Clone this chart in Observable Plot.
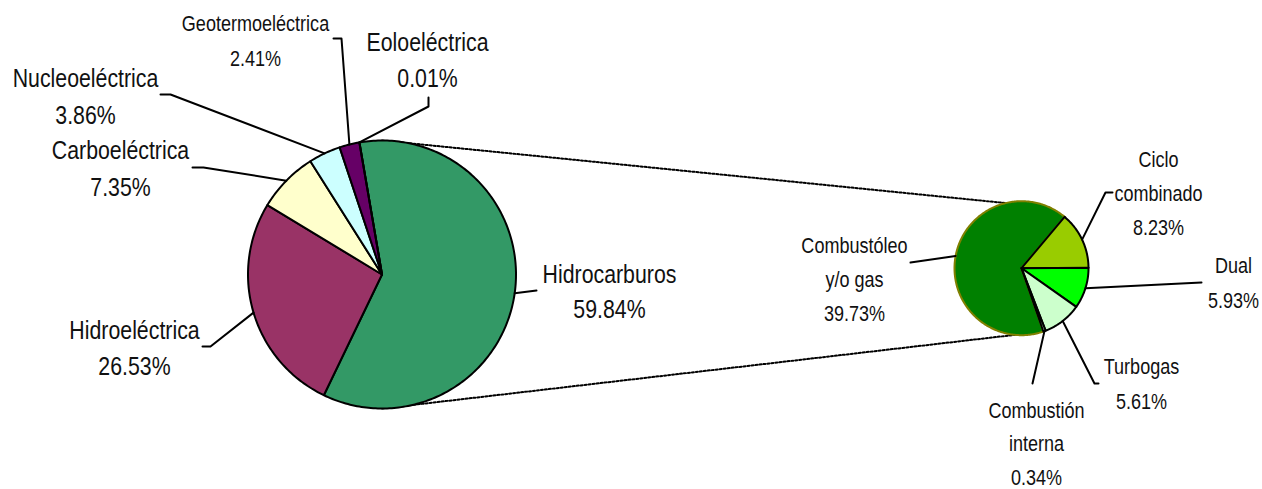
<!DOCTYPE html>
<html><head><meta charset="utf-8">
<script src="https://cdn.jsdelivr.net/npm/d3@7"></script>
<script src="https://cdn.jsdelivr.net/npm/@observablehq/plot@0.6"></script>
<style>html,body{margin:0;padding:0;background:#fff;overflow:hidden} svg{display:block}</style>
</head><body><div id="chart"></div>
<script>
// ---- Data ----
const mainCategories = ["Hidrocarburos", "Hidroeléctrica", "Carboeléctrica", "Nucleoeléctrica", "Geotermoeléctrica", "Eoloeléctrica"];
const mainValues = [59.84, 26.53, 7.35, 3.86, 2.41, 0.01];
const mainColors = ["#339966", "#993366", "#FFFFCC", "#CCFFFF", "#660066", "#FFFFFF"];

const subCategories = ["Ciclo\ncombinado", "Dual", "Turbogas", "Combustión\ninterna", "Combustóleo\ny/o gas"];
const subValues = [8.23, 5.93, 5.61, 0.34, 39.73];
const subColors = ["#99CC00", "#00FF00", "#CCFFCC", "#CCFFCC", "#008000"];
const subStrokes = ["#000", "#000", "#000", "#000", "#808000"];

// ---- Layout ----
const W = 1262, H = 489;
const FONT = "'Liberation Sans', Arial, sans-serif";
const NARROW = 0.82; // horizontal squeeze to mimic a narrow face
const MAIN = {cx: 381.5, cy: 274, r: 134, start: -9.7};
const SUB = {cx: 1021, cy: 267.7, r: 67, start: 40};
const mainLayout = [
  {x: 609, y: 282, size: 26, lh: 35.5, path: [[536, 290]]},
  {x: 134, y: 338, size: 26, lh: 36, path: [[202, 346], [210, 346]]},
  {x: 120, y: 158, size: 26, lh: 37, path: [[192, 167], [203, 167]]},
  {x: 85, y: 86, size: 26, lh: 37, path: [[160, 94], [170, 94]]},
  {x: 255, y: 30, size: 22, lh: 35, path: [[333, 38], [341, 38]]},
  {x: 427, y: 50, size: 26, lh: 36, path: [[428, 97], [428, 106]]}
];
const subLayout = [
  {x: 1158, y: 166, size: 22, lh: 34, path: [[1112, 192], [1105, 192]]},
  {x: 1233, y: 272, size: 22, lh: 35, path: [[1201, 282]]},
  {x: 1141, y: 373, size: 22, lh: 35, path: [[1098, 383], [1094, 383]]},
  {x: 1036, y: 417, size: 22, lh: 33.7, path: [[1032, 383]]},
  {x: 854, y: 252, size: 22, lh: 34, path: [[910, 262]]}
];

// ---- Geometry helpers ----
function slices(cfg, cats, vals, colors, strokes) {
  const total = d3.sum(vals);
  let a = cfg.start;
  return cats.map((c, i) => {
    const span = vals[i] / total * 360;
    const s = {name: c, value: vals[i], color: colors[i], stroke: strokes ? strokes[i] : "#000", a0: a, a1: a + span};
    a += span;
    return s;
  });
}
function pt(cfg, ang, r = cfg.r) {
  const t = ang * Math.PI / 180;
  return [cfg.cx + r * Math.sin(t), cfg.cy - r * Math.cos(t)];
}
function poly(cfg, s) {
  const pts = [[cfg.cx, cfg.cy]];
  const n = Math.max(2, Math.ceil(Math.abs(s.a1 - s.a0)));
  for (let k = 0; k <= n; k++) pts.push(pt(cfg, s.a0 + (s.a1 - s.a0) * k / n));
  return pts.map(([x, y]) => ({x, y}));
}

const mainSlices = slices(MAIN, mainCategories, mainValues, mainColors);
const subSlices = slices(SUB, subCategories, subValues, subColors, subStrokes);

const marks = [];
// connector dotted lines
const lastSub = subSlices[subSlices.length - 1];
const topA = pt(MAIN, 0), topB = pt(SUB, 25);
const botA = pt(MAIN, 180), botB = pt(SUB, lastSub.a0);
for (const [a, b] of [[topA, topB], [botA, botB]]) {
  marks.push(Plot.line([{x: a[0], y: a[1]}, {x: b[0], y: b[1]}], {x: "x", y: "y", stroke: "#000", strokeWidth: 2, strokeDasharray: "2 2"}));
}
// main pie slices
for (const s of mainSlices) {
  marks.push(Plot.line(poly(MAIN, s), {x: "x", y: "y", fill: s.color, stroke: "#000", strokeWidth: 2, curve: "linear-closed", strokeLinejoin: "round"}));
}
// secondary pie: big slice first (olive outline), then others
const subOrder = [subSlices.length - 1, ...subSlices.map((_, i) => i).slice(0, -1)];
for (const i of subOrder) {
  const s = subSlices[i];
  marks.push(Plot.line(poly(SUB, s), {x: "x", y: "y", fill: s.color, stroke: s.stroke, strokeWidth: 2, curve: "linear-closed", strokeLinejoin: "round"}));
}
// leader lines + labels
const textRows = [];
function addLabels(cfg, sl, layout) {
  sl.forEach((s, i) => {
    const L = layout[i];
    const mid = pt(cfg, (s.a0 + s.a1) / 2);
    const path = [...L.path, mid].map(([x, y]) => ({x, y}));
    marks.push(Plot.line(path, {x: "x", y: "y", stroke: "#000", strokeWidth: 2}));
    const lines = (s.name + "\n" + s.value.toFixed(2) + "%").split("\n");
    lines.forEach((t, k) => textRows.push({x: L.x, y: L.y + k * L.lh, text: t, size: L.size}));
  });
}
addLabels(MAIN, mainSlices, mainLayout);
addLabels(SUB, subSlices, subLayout);
for (const sz of [...new Set(textRows.map(d => d.size))]) {
  marks.push(Plot.text(textRows.filter(d => d.size === sz), {x: "x", y: "y", text: "text", fontSize: sz, fontFamily: FONT, fill: "#111", textAnchor: "middle", lineAnchor: "bottom", className: "lbl"}));
}

const chart = Plot.plot({
  width: W, height: H, margin: 0,
  x: {domain: [0, W], range: [0, W], axis: null},
  y: {domain: [0, H], range: [0, H], axis: null},
  style: {background: "#fff"},
  marks
});
// squeeze label glyphs horizontally (narrow typeface look)
chart.querySelectorAll("g.lbl text").forEach(t => {
  const tr = t.getAttribute("transform") || "";
  t.setAttribute("transform", tr + ` scale(${NARROW},1)`);
});
document.getElementById("chart").appendChild(chart);
</script>
</body></html>
